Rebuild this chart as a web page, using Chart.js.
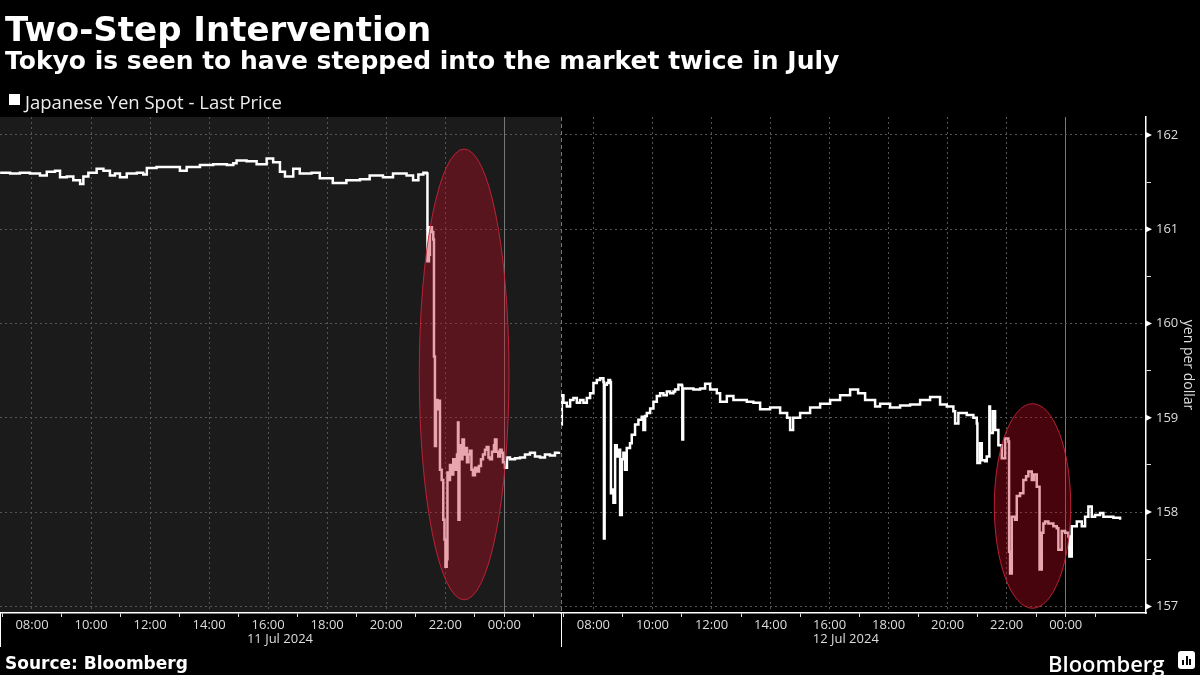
<!DOCTYPE html>
<html>
<head>
<meta charset="utf-8">
<script src="https://cdn.jsdelivr.net/npm/chart.js@4.4.1/dist/chart.umd.min.js"></script>
<style>
  html, body { margin: 0; padding: 0; background: #000; }
  #wrap { position: relative; width: 1200px; height: 675px; overflow: hidden; background: #000; }
  #chart { position: absolute; left: 0; top: 0; }
  .t { position: absolute; color: #fff; white-space: nowrap; line-height: 1; }
  #title { left: 5px; top: 8.5px; font: bold 34px "DejaVu Sans"; }
  #subtitle { left: 5px; top: 46px; font: bold 25px "DejaVu Sans"; }
  #legendBox { position: absolute; left: 9px; top: 94px; width: 11px; height: 11px; background: #fff; }
  #legend { left: 25px; top: 88.5px; font: 18.5px "Open Sans"; color: #eee; }
  #source { left: 5px; top: 652.6px; font: bold 17px "DejaVu Sans"; }
  #brand { left: 1048px; top: 647.5px; font: 600 22px "Open Sans"; }
  #brandIcon { position: absolute; left: 1178px; top: 651px; width: 17px; height: 18px; background: #fff; border-radius: 3px; }
  #brandIcon i { position: absolute; bottom: 4px; width: 2px; background: #000; }
</style>
</head>
<body>
<div id="wrap">
  <canvas id="chart" width="1200" height="675"></canvas>
  <div class="t" id="title">Two-Step Intervention</div>
  <div class="t" id="subtitle">Tokyo is seen to have stepped into the market twice in July</div>
  <div id="legendBox"></div>
  <div class="t" id="legend">Japanese Yen Spot - Last Price</div>
  <div class="t" id="source">Source: Bloomberg</div>
  <div class="t" id="brand">Bloomberg</div>
  <div id="brandIcon"><i style="left:4px;height:5px"></i><i style="left:7.5px;height:9px"></i><i style="left:11px;height:6px"></i></div>
</div>
<script>
// hours after midnight (Tokyo) on each panel's day; the 11 Jul panel runs past midnight
const day1Range = [6.916, 25.92];
const day2Range = [6.9, 26.72];
const lastLabelHour = 24;
const dateLabels = ['11 Jul 2024', '12 Jul 2024'];
const dateLabelHours = [16.4, 16.55];

const day1Hours = [6.92, 7.26, 7.59, 7.93, 8.27, 8.50, 8.78, 8.95, 9.18, 9.40, 9.63, 9.74, 9.91, 10.19, 10.42, 10.64, 10.81, 10.98, 11.21, 11.55,
  11.77, 11.89, 12.22, 12.56, 13.01, 13.24, 13.69, 14.14, 14.60, 14.82, 14.93, 15.27, 15.61, 15.95, 16.17, 16.40, 16.57, 16.85, 17.07, 17.47,
  17.75, 18.19, 18.32, 18.65, 19.11, 19.44, 19.89, 20.23, 20.69, 20.91, 21.09, 21.26, 21.37,
  21.397, 21.448, 21.482, 21.550, 21.594, 21.618, 21.651, 21.686, 21.736, 21.787, 21.821, 21.879, 21.933, 21.974, 22.007, 22.048, 22.075,
  22.126, 22.160, 22.228, 22.272, 22.329, 22.397, 22.431, 22.448, 22.482, 22.533, 22.584, 22.634, 22.685, 22.736, 22.787, 22.838, 22.888,
  22.939, 23.007, 23.074, 23.142, 23.210, 23.278, 23.346, 23.403, 23.464, 23.515, 23.583, 23.650, 23.684, 23.735, 23.796, 23.854, 23.911,
  23.955, 24.023, 24.091, 24.193, 24.362, 24.531, 24.701, 24.870, 25.039, 25.209, 25.378, 25.547, 25.717, 25.852];
const day1Yen = [161.60, 161.59, 161.60, 161.59, 161.57, 161.61, 161.62, 161.55, 161.56, 161.52, 161.48, 161.56, 161.60, 161.64, 161.62, 161.57, 161.59, 161.55, 161.59, 161.60,
  161.58, 161.65, 161.66, 161.66, 161.62, 161.66, 161.68, 161.69, 161.68, 161.70, 161.73, 161.72, 161.69, 161.75, 161.71, 161.61, 161.56, 161.64, 161.59, 161.60,
  161.54, 161.49, 161.49, 161.52, 161.53, 161.57, 161.55, 161.59, 161.57, 161.52, 161.58, 161.60, 161.59,
  160.66, 160.73, 161.02, 160.97, 160.89, 159.65, 158.70, 159.19, 159.09, 159.18, 158.45, 158.34, 157.92, 157.71, 157.42, 157.50, 158.42,
  158.34, 158.50, 158.40, 158.56, 158.45, 158.61, 158.95, 157.92, 158.71, 158.56, 158.77, 158.61, 158.68, 158.53, 158.61, 158.65, 158.45,
  158.39, 158.47, 158.43, 158.49, 158.56, 158.61, 158.66, 158.69, 158.58, 158.56, 158.64, 158.71, 158.77, 158.64, 158.59, 158.66, 158.63,
  158.53, 158.47, 158.58, 158.56, 158.57, 158.58, 158.61, 158.63, 158.59, 158.58, 158.61, 158.60, 158.63, 158.64];

const day2Hours = [6.906, 6.930, 6.984, 7.099, 7.211, 7.322, 7.438, 7.549, 7.661, 7.776, 7.888, 8.000, 8.115, 8.227, 8.339, 8.356, 8.379, 8.454, 8.508, 8.565,
  8.593, 8.623, 8.677, 8.735, 8.791, 8.846, 8.904, 8.961, 9.015, 9.071, 9.129, 9.240, 9.298, 9.410, 9.524, 9.638, 9.693, 9.751, 9.809, 9.921,
  10.033, 10.148, 10.260, 10.371, 10.486, 10.598, 10.710, 10.768, 10.879, 10.995, 11.011, 11.039, 11.164, 11.388, 11.614, 11.784, 11.953, 12.180, 12.292, 12.519,
  12.743, 12.970, 13.196, 13.420, 13.647, 13.986, 14.325, 14.562, 14.663, 14.765, 15.002, 15.341, 15.680, 16.019, 16.357, 16.696, 16.967, 17.204, 17.543, 17.712,
  18.051, 18.389, 18.728, 19.067, 19.406, 19.744, 19.971, 20.194, 20.252, 20.364, 20.649, 20.872, 20.987, 21.008, 21.098, 21.157, 21.268, 21.325, 21.413, 21.436,
  21.530, 21.608, 21.719, 21.834, 21.946, 22.057, 22.081, 22.115, 22.173, 22.284, 22.342, 22.453, 22.565, 22.657, 22.735, 22.850, 22.928, 23.019, 23.097, 23.114,
  23.189, 23.243, 23.301, 23.413, 23.582, 23.697, 23.751, 23.866, 23.978, 24.090, 24.124, 24.205, 24.375, 24.544, 24.656, 24.768, 24.883, 24.995, 25.164, 25.276,
  25.391, 25.615, 25.842];
const day2Yen = [158.93, 159.24, 159.16, 159.12, 159.19, 159.21, 159.16, 159.19, 159.16, 159.21, 159.26, 159.37, 159.40, 159.42, 159.38, 157.72, 159.35, 159.37, 159.40, 159.38,
  158.20, 158.24, 158.10, 158.71, 158.59, 158.66, 157.97, 158.56, 158.63, 158.45, 158.68, 158.73, 158.82, 158.93, 158.98, 159.01, 158.87, 159.02, 159.05, 159.10,
  159.17, 159.23, 159.26, 159.24, 159.28, 159.26, 159.28, 159.30, 159.35, 159.34, 158.77, 159.31, 159.31, 159.30, 159.31, 159.36, 159.30, 159.26, 159.17, 159.23,
  159.19, 159.19, 159.17, 159.16, 159.09, 159.11, 159.05, 159.00, 158.87, 159.00, 159.05, 159.11, 159.15, 159.19, 159.24, 159.30, 159.26, 159.19, 159.12, 159.15,
  159.11, 159.13, 159.14, 159.19, 159.22, 159.14, 159.12, 159.07, 158.94, 159.05, 159.03, 159.00, 158.94, 158.52, 158.73, 158.55, 158.54, 158.59, 159.12, 158.84,
  159.07, 158.87, 158.71, 158.57, 158.78, 158.75, 157.58, 157.35, 157.95, 157.92, 158.17, 158.20, 158.34, 158.38, 158.43, 158.34, 158.40, 158.27, 158.27, 157.39,
  157.78, 157.88, 157.90, 157.88, 157.85, 157.83, 157.60, 157.80, 157.78, 157.74, 157.53, 157.85, 157.90, 157.85, 157.95, 158.06, 157.95, 157.97, 157.99, 157.95,
  157.95, 157.94, 157.92];

// the two suspected intervention windows (hours, yen)
const interventionAxes = ['x1', 'x2'];
const interventionHours = [[21.12, 24.16], [21.58, 24.17]];
const interventionYen = [[157.07, 161.85], [156.98, 159.15]];

const yenRange = [156.93, 162.19];

const tickFont = { family: 'Open Sans', size: 13 };
const pad2 = n => String(n).padStart(2, '0');
const clear = 'rgba(0,0,0,0)';

function timeAxis(range) {
  return {
    type: 'linear',
    position: 'bottom',
    stack: 'time',
    stackWeight: range[1] - range[0],
    min: range[0],
    max: range[1],
    afterFit: s => { s.height = 40; },
    afterBuildTicks: s => {
      const ticks = [];
      for (let h = Math.ceil(range[0]); h <= Math.floor(range[1]); h++) ticks.push({ value: h });
      s.ticks = ticks;
    },
    border: {
      display: true, color: '#fff', width: 1.5,
      dash: c => (c.tick && c.tick.value % 24 === 0) ? [] : [2, 3]
    },
    grid: {
      color: c => {
        if (!c.tick || c.tick.value > lastLabelHour) return clear;
        if (c.tick.value % 24 === 0) return '#777';
        return c.tick.value % 2 === 0 ? '#555' : clear;
      },
      tickColor: c => (c.tick && (c.tick.value % 2 === 1 || c.tick.value % 24 === 0)) ? '#ddd' : clear,
      tickLength: 4
    },
    ticks: {
      autoSkip: false,
      maxRotation: 0,
      padding: 0,
      color: '#ddd',
      font: tickFont,
      callback: v => (v % 2 === 0 && v <= lastLabelHour) ? pad2(v % 24) + ':00' : ''
    }
  };
}

const panelPlugin = {
  id: 'panels',
  beforeDraw(chart) {
    const { ctx, chartArea: a, scales } = chart;
    ctx.save();
    ctx.fillStyle = '#1b1b1b';
    ctx.fillRect(scales.x1.left, a.top, scales.x1.right - scales.x1.left, a.bottom - a.top);
    ctx.restore();
  },
  afterDatasetsDraw(chart) {
    const { ctx, scales } = chart;
    ctx.save();
    interventionAxes.forEach((id, i) => {
      const xs = scales[id], ys = scales.y;
      const x0 = xs.getPixelForValue(interventionHours[i][0]);
      const x1 = xs.getPixelForValue(interventionHours[i][1]);
      const y0 = ys.getPixelForValue(interventionYen[i][1]);
      const y1 = ys.getPixelForValue(interventionYen[i][0]);
      ctx.beginPath();
      ctx.ellipse((x0 + x1) / 2, (y0 + y1) / 2, (x1 - x0) / 2, (y1 - y0) / 2, 0, 0, Math.PI * 2);
      ctx.fillStyle = 'rgba(193, 10, 35, 0.37)';
      ctx.fill();
      ctx.strokeStyle = 'rgba(200, 35, 55, 0.9)';
      ctx.lineWidth = 1;
      ctx.stroke();
    });
    ctx.restore();
  },
  afterDraw(chart) {
    const { ctx, chartArea: a, scales } = chart;
    ctx.save();
    // separator between the two sessions
    const sx = Math.round(scales.x2.left) + 0.5;
    ctx.strokeStyle = '#777';
    ctx.lineWidth = 1;
    ctx.setLineDash([4, 3]);
    ctx.beginPath();
    ctx.moveTo(sx, a.top);
    ctx.lineTo(sx, a.bottom);
    ctx.stroke();
    ctx.setLineDash([]);
    ctx.strokeStyle = '#fff';
    ctx.beginPath();
    ctx.moveTo(sx, a.bottom);
    ctx.lineTo(sx, a.bottom + 34);
    ctx.moveTo(0.5, a.bottom);
    ctx.lineTo(0.5, a.bottom + 34);
    ctx.stroke();

    // arrow markers on the price axis
    const ys = scales.y;
    ctx.fillStyle = '#fff';
    ys.ticks.forEach(t => {
      if (!Number.isInteger(t.value)) return;
      const py = ys.getPixelForValue(t.value);
      ctx.beginPath();
      ctx.moveTo(a.right, py - 3);
      ctx.lineTo(a.right + 6, py);
      ctx.lineTo(a.right, py + 3);
      ctx.closePath();
      ctx.fill();
    });

    // day labels under the time axis
    ctx.fillStyle = '#ddd';
    ctx.font = '13px "Open Sans"';
    ctx.textAlign = 'center';
    ctx.textBaseline = 'middle';
    ['x1', 'x2'].forEach((id, i) => {
      ctx.fillText(dateLabels[i], scales[id].getPixelForValue(dateLabelHours[i]), a.bottom + 26);
    });
    ctx.restore();
  }
};

const lineStyle = {
  borderColor: '#fff',
  borderWidth: 2.5,
  pointRadius: 0,
  stepped: true,
  fill: false
};

new Chart(document.getElementById('chart'), {
  type: 'line',
  data: {
    datasets: [
      Object.assign({ label: 'Japanese Yen Spot - Last Price', xAxisID: 'x1', yAxisID: 'y',
        data: day1Hours.map((h, i) => ({ x: h, y: day1Yen[i] })) }, lineStyle),
      Object.assign({ label: 'Japanese Yen Spot - Last Price', xAxisID: 'x2', yAxisID: 'y',
        data: day2Hours.map((h, i) => ({ x: h, y: day2Yen[i] })) }, lineStyle)
    ]
  },
  options: {
    responsive: false,
    animation: false,
    layout: { padding: { top: 117, bottom: 22, left: 0, right: 0 } },
    plugins: { legend: { display: false }, tooltip: { enabled: false } },
    scales: {
      x1: timeAxis(day1Range),
      x2: timeAxis(day2Range),
      y: {
        type: 'linear',
        position: 'right',
        min: yenRange[0],
        max: yenRange[1],
        afterFit: s => { s.width = 54; },
        border: { display: true, color: '#fff', width: 1.5, dash: [2, 3] },
        grid: {
          color: c => (c.tick && Number.isInteger(c.tick.value)) ? '#555' : clear,
          tickColor: c => (c.tick && Number.isInteger(c.tick.value)) ? clear : '#ddd',
          tickLength: 5
        },
        ticks: {
          stepSize: 0.5,
          includeBounds: false,
          autoSkip: false,
          padding: 5,
          color: '#ddd',
          font: tickFont,
          callback: v => Number.isInteger(v) ? String(v) : ''
        },
        title: {
          display: true,
          text: 'yen per dollar',
          color: '#ddd',
          font: { family: 'Open Sans', size: 14 },
          padding: { top: 4, bottom: 0 }
        }
      }
    }
  },
  plugins: [panelPlugin]
});
</script>
</body>
</html>
